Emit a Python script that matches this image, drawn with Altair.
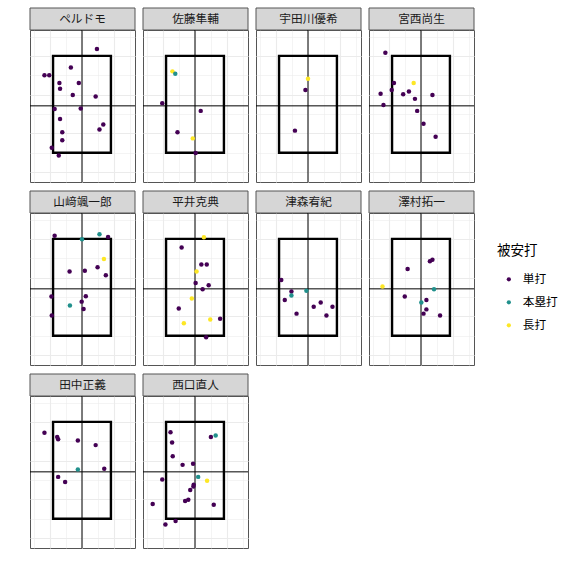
import altair as alt
import pandas as pd

TYPES = ["単打", "本塁打", "長打"]
COLORS = ["#440154", "#21908C", "#FDE725"]
S, H, D = TYPES

PLAYERS = ["ペルドモ", "佐藤隼輔", "宇田川優希", "宮西尚生", "山﨑颯一郎",
           "平井克典", "津森宥紀", "澤村拓一", "田中正義", "西口直人"]

# strike zone and reference lines (plate x, height z)
ZONE_X = [-0.91, 0.91]
ZONE_Z = [1.5, 4.0]
CROSS_X = 0.0
CROSS_Z = 2.71
X_DOMAIN = [-1.635, 1.667]
Z_DOMAIN = [0.744, 4.668]
X_GRID = [-1.5, -1.0, -0.5, 0.0, 0.5, 1.0, 1.5]
Z_GRID = [1.0, 1.5, 2.0, 2.5, 3.0, 3.5, 4.0, 4.5]

perdomo_x = [0.47, -0.35, -1.18, -1.03, -0.71, -0.10, -0.69, -0.29, 0.43, -0.86, -0.04, -0.69, 0.67, 0.55, -0.62, -0.62, -0.95, -0.73]
perdomo_z = [4.18, 3.70, 3.50, 3.50, 3.30, 3.30, 3.15, 2.99, 2.95, 2.63, 2.64, 2.37, 2.23, 2.10, 2.03, 1.82, 1.63, 1.43]
perdomo_t = [S, S, S, S, S, S, S, S, S, S, S, S, S, S, S, S, S, S]

sato_x = [-0.71, -0.62, -1.03, 0.18, -0.55, -0.07, 0.02]
sato_z = [3.60, 3.54, 2.78, 2.58, 2.03, 1.87, 1.49]
sato_t = [D, H, S, S, S, D, S]

udagawa_x = [0.00, -0.08, -0.41]
udagawa_z = [3.41, 3.12, 2.07]
udagawa_t = [D, S, S]

miyanishi_x = [-1.12, -0.23, -0.85, -1.27, -0.92, -0.56, -0.38, 0.36, -0.19, -1.18, -0.12, 0.08, 0.46]
miyanishi_z = [4.08, 3.30, 3.30, 3.02, 3.12, 3.01, 3.08, 2.99, 2.89, 2.73, 2.58, 2.25, 1.91]
miyanishi_t = [S, D, S, S, S, S, S, S, S, S, S, S, S]

yamasaki_x = [-0.86, 0.00, 0.55, 0.82, 0.69, 0.49, -0.39, 0.09, 0.75, -0.96, 0.12, -0.38, -0.01, 0.05, -0.95]
yamasaki_z = [4.08, 3.99, 4.12, 4.05, 3.48, 3.27, 3.16, 3.18, 3.06, 2.51, 2.52, 2.28, 2.38, 2.19, 2.02]
yamasaki_t = [S, H, H, S, D, S, S, S, S, S, S, H, S, S, S]

hirai_x = [0.28, -0.42, 0.20, 0.37, 0.05, 0.02, 0.43, 0.24, -0.10, -0.51, -0.35, 0.48, 0.79, 0.35]
hirai_z = [4.04, 3.78, 3.34, 3.34, 3.16, 2.86, 2.80, 2.70, 2.46, 2.20, 1.82, 1.92, 1.94, 1.46]
hirai_t = [D, S, S, S, D, S, S, S, D, S, D, D, S, S]

tsumori_x = [-0.84, -0.52, -0.52, -0.05, -0.73, 0.18, 0.40, 0.77, -0.36, 0.58]
tsumori_z = [2.94, 2.64, 2.54, 2.66, 2.42, 2.25, 2.36, 2.25, 2.07, 2.02]
tsumori_t = [S, S, H, H, S, S, S, S, S, S]

sawamura_x = [0.28, 0.36, -0.42, -1.21, 0.41, -0.51, 0.17, 0.01, 0.17, 0.08, 0.60]
sawamura_z = [3.42, 3.46, 3.22, 2.77, 2.70, 2.51, 2.42, 2.36, 2.18, 2.07, 2.02]
sawamura_t = [S, S, S, D, H, S, S, H, S, S, S]

tanaka_x = [-1.18, -0.78, -0.75, -0.13, 0.43, -0.13, 0.70, -0.75, -0.53]
tanaka_z = [3.72, 3.61, 3.55, 3.52, 3.40, 2.77, 2.79, 2.58, 2.45]
tanaka_t = [S, S, S, S, S, H, S, S, S]

nishiguchi_x = [-0.77, 0.65, 0.50, -0.72, -0.70, -0.39, -0.06, -1.03, 0.10, 0.38, -0.04, -0.05, -0.15, -0.21, -0.31, -1.33, 0.59, -0.61, -0.93]
nishiguchi_z = [3.73, 3.65, 3.61, 3.47, 3.11, 2.89, 2.92, 2.51, 2.58, 2.48, 2.38, 2.33, 2.24, 1.99, 1.96, 1.88, 1.86, 1.44, 1.35]
nishiguchi_t = [S, H, S, S, S, S, S, S, H, D, S, S, S, S, S, S, S, S, S]

series = [
    (perdomo_x, perdomo_z, perdomo_t),
    (sato_x, sato_z, sato_t),
    (udagawa_x, udagawa_z, udagawa_t),
    (miyanishi_x, miyanishi_z, miyanishi_t),
    (yamasaki_x, yamasaki_z, yamasaki_t),
    (hirai_x, hirai_z, hirai_t),
    (tsumori_x, tsumori_z, tsumori_t),
    (sawamura_x, sawamura_z, sawamura_t),
    (tanaka_x, tanaka_z, tanaka_t),
    (nishiguchi_x, nishiguchi_z, nishiguchi_t),
]

rows = []
i = 0
for name, (xs, zs, ts) in zip(PLAYERS, series):
    for x, z, t in zip(xs, zs, ts):
        rows.append({"player": name, "px": x, "pz": z, "type": t, "idx": i})
        i += 1
df = pd.DataFrame(rows)

W, HGT = 105, 152
STRIP_H = 22
FONT = "Noto Sans CJK JP"

xscale = alt.Scale(domain=X_DOMAIN, nice=False, zero=False)
zscale = alt.Scale(domain=Z_DOMAIN, nice=False, zero=False)
grid_w = {"condition": {"test": "datum.value % 1 === 0", "value": 1.1}, "value": 0.55}
xaxis = alt.Axis(values=X_GRID, grid=True, labels=False, ticks=False, domain=False,
                 title=None, gridColor="#EBEBEB", gridWidth=grid_w)
zaxis = alt.Axis(values=Z_GRID, grid=True, labels=False, ticks=False, domain=False,
                 title=None, gridColor="#EBEBEB", gridWidth=grid_w)

per_panel = alt.Chart().transform_aggregate(n="count()", groupby=["player"]).transform_calculate(
    zx0=f"{ZONE_X[0]}", zx1=f"{ZONE_X[1]}", zz0=f"{ZONE_Z[0]}", zz1=f"{ZONE_Z[1]}",
    cx=f"{CROSS_X}", cz=f"{CROSS_Z}")

strip = per_panel.mark_rect(fill="#D6D6D6", stroke="#555555", strokeWidth=1).encode(
    x=alt.value(0), x2=alt.value(W), y=alt.value(-STRIP_H), y2=alt.value(0))
strip_text = per_panel.mark_text(font=FONT, fontSize=11.7, color="#1A1A1A",
                                 baseline="middle", align="center").encode(
    text="player:N", x=alt.value(W / 2), y=alt.value(-STRIP_H / 2))

zone = per_panel.mark_rect(fillOpacity=0, stroke="black", strokeWidth=2.4).encode(
    x=alt.X("zx0:Q", scale=xscale, axis=xaxis), x2="zx1:Q",
    y=alt.Y("zz1:Q", scale=zscale, axis=zaxis), y2="zz0:Q")
vline = per_panel.mark_rule(color="#000000", strokeWidth=1).encode(
    x=alt.X("cx:Q", scale=xscale, axis=xaxis))
hline = per_panel.mark_rule(color="#000000", strokeWidth=1).encode(
    y=alt.Y("cz:Q", scale=zscale, axis=zaxis))

points = alt.Chart().mark_circle(size=20, opacity=1).encode(
    x=alt.X("px:Q", scale=xscale, axis=xaxis),
    y=alt.Y("pz:Q", scale=zscale, axis=zaxis),
    color=alt.Color("type:N", scale=alt.Scale(domain=TYPES, range=COLORS),
                    legend=alt.Legend(title="被安打", orient="none", legendX=467, legendY=214,
                                      titleFontSize=13.5, titleFontWeight="normal",
                                      titleColor="#000000", labelColor="#000000",
                                      labelFontSize=11.7, symbolType="circle",
                                      symbolSize=18, symbolStrokeWidth=0,
                                      rowPadding=10, titlePadding=16,
                                      symbolOffset=6, labelOffset=8)),
    order=alt.Order("idx:Q"))

chart = alt.layer(strip, strip_text, zone, vline, hline, points, data=df).properties(
    width=W, height=HGT
).facet(
    facet=alt.Facet("player:N", sort=PLAYERS, title=None,
                    header=alt.Header(title=None, labels=False, labelExpr="''",
                                      labelPadding=0, labelFontSize=1)),
    columns=4, spacing={"row": 31, "column": 8}, bounds="flush"
).properties(
    padding={"left": 29, "top": 6, "right": 0, "bottom": 0}
).configure(font=FONT).configure_view(stroke="#555555", strokeWidth=1).configure_header(
    labels=False, title=None
)

chart.save("out.html", embed_options={"renderer": "svg", "actions": False})
